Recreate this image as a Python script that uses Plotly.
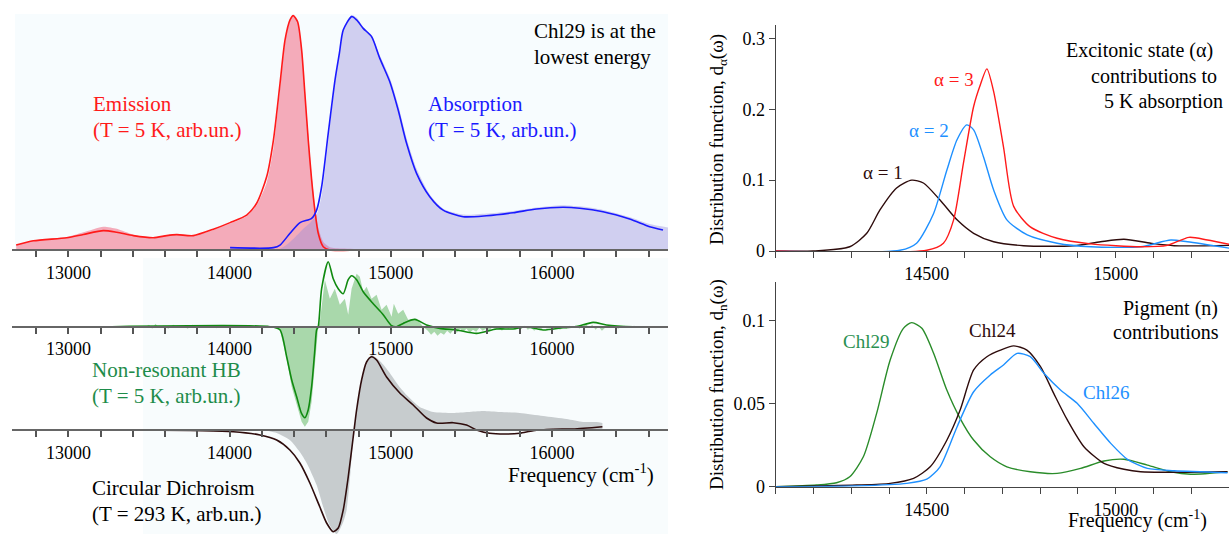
import plotly.graph_objects as go

W, H = 1229, 534
FONT = "Liberation Serif"

# ---------------- Top-left: emission / absorption (T = 5 K), normalised arb. units
emi_exp_f = [12676, 12783, 12990, 13093, 13217, 13300, 13403, 13527, 13610, 13672, 13775, 13899, 14003, 14106,
             14168, 14230, 14272, 14313, 14344, 14375, 14395, 14422, 14447, 14467, 14488, 14509, 14529, 14550,
             14581, 14622, 14700, 14850, 15000]
emi_exp_v = [0.021, 0.040, 0.055, 0.075, 0.099, 0.090, 0.065, 0.050, 0.062, 0.068, 0.062, 0.085, 0.112, 0.143,
             0.190, 0.285, 0.430, 0.680, 0.880, 0.975, 0.995, 0.970, 0.860, 0.680, 0.490, 0.320, 0.190, 0.095,
             0.035, 0.012, 0.006, 0.003, 0.0]
emi_th_f = [12676, 12783, 12990, 13093, 13217, 13300, 13403, 13527, 13610, 13672, 13775, 13899, 14003, 14106,
            14168, 14230, 14272, 14313, 14344, 14375, 14395, 14422, 14447, 14467, 14488, 14509, 14529, 14550,
            14581, 14622, 14800, 15000]
emi_th_v = [0.021, 0.039, 0.052, 0.066, 0.082, 0.075, 0.061, 0.052, 0.061, 0.065, 0.061, 0.088, 0.116, 0.148,
            0.198, 0.310, 0.466, 0.706, 0.890, 0.975, 0.993, 0.967, 0.847, 0.664, 0.466, 0.297, 0.169, 0.071,
            0.014, 0.0, 0.0, 0.0]
abs_exp_f = [14300, 14350, 14400, 14450, 14500, 14540, 14571, 14612, 14654, 14681, 14705, 14757, 14788, 14829,
             14881, 14932, 14994, 15046, 15098, 15160, 15242, 15325, 15449, 15594, 15759, 15904, 16069, 16172,
             16317, 16482, 16606, 16720]
abs_exp_v = [0.0, 0.02, 0.05, 0.085, 0.115, 0.15, 0.23, 0.46, 0.71, 0.83, 0.935, 0.996, 0.985, 0.945,
             0.91, 0.825, 0.73, 0.615, 0.475, 0.345, 0.235, 0.175, 0.15, 0.155, 0.165, 0.18, 0.19, 0.185,
             0.17, 0.14, 0.11, 0.095]
abs_th_f = [14003, 14272, 14313, 14375, 14437, 14509, 14540, 14571, 14612, 14654, 14681, 14705, 14757, 14788,
            14829, 14881, 14932, 14994, 15046, 15098, 15160, 15242, 15325, 15449, 15594, 15759, 15904, 16069,
            16172, 16317, 16482, 16606, 16689]
abs_th_v = [0.010, 0.010, 0.021, 0.071, 0.116, 0.134, 0.169, 0.268, 0.494, 0.720, 0.833, 0.932, 0.989, 0.975,
            0.939, 0.904, 0.812, 0.713, 0.593, 0.452, 0.325, 0.226, 0.169, 0.141, 0.145, 0.158, 0.174, 0.181,
            0.177, 0.162, 0.131, 0.099, 0.085]

# ---------------- Middle-left: non-resonant hole burning (T = 5 K), arb. units
hb_th_f = [13270, 14250, 14312, 14354, 14385, 14416, 14447, 14467, 14488, 14509, 14529, 14540, 14550, 14571,
           14612, 14643, 14674, 14705, 14736, 14757, 14788, 14829, 14891, 14953, 15005, 15036, 15077, 15149,
           15222, 15304, 15408, 15532, 15656, 15759, 15842, 15945, 16069, 16152, 16255, 16338, 16503, 16710]
hb_th_v = [0, 0, -0.03, -0.30, -0.53, -0.70, -0.87, -0.91, -0.83, -0.60, -0.23, -0.03, 0.0, 0.38,
           0.65, 0.48, 0.38, 0.33, 0.47, 0.51, 0.47, 0.35, 0.23, 0.12, 0.01, 0.0, 0.033, 0.073,
           0.017, -0.017, -0.033, -0.067, -0.023, -0.023, 0.0, -0.033, -0.01, 0.0, 0.043, 0.017, 0.0, 0.0]
hb_exp = [(13480, 0), (13500, .02), (13520, -.02), (13540, .03), (13560, -.01), (13590, .01), (13620, -.02),
          (13650, .02), (13680, -.01), (13710, .01), (13740, -.02), (13770, .02), (13800, 0), (13830, .015),
          (13860, -.01), (13890, .01), (13920, -.015), (13950, .01), (13980, -.01), (14010, .01), (14040, -.005),
          (14070, .01), (14100, 0), (14130, .01), (14160, -.005), (14190, .005), (14220, 0), (14250, 0),
          (14312, -.03), (14354, -.32), (14385, -.60), (14416, -.78), (14447, -.95), (14467, -1.0), (14488, -.95),
          (14509, -.75), (14529, -.40), (14545, -.05), (14550, 0), (14560, .05), (14591, .47), (14622, .28),
          (14653, .38), (14684, .22), (14715, .28), (14736, .12), (14757, .38), (14788, .53), (14808, .50),
          (14829, .35), (14850, .40), (14881, .28), (14912, .32), (14943, .17), (14974, .22), (15005, .10),
          (15019, .23), (15046, .13), (15077, .17), (15108, .07), (15160, .08), (15201, 0), (15230, -.04),
          (15250, -.08), (15270, -.05), (15290, -.09), (15310, -.06), (15330, -.08), (15350, -.04), (15370, -.07),
          (15390, -.03), (15410, -.06), (15430, -.02), (15450, -.05), (15470, -.02), (15490, -.06), (15510, -.03),
          (15530, -.05), (15550, -.01), (15570, -.04), (15590, -.02), (15610, -.05), (15630, 0), (15650, -.03),
          (15670, -.01), (15690, -.04), (15710, 0), (15730, -.02), (15750, .01), (15770, -.03), (15790, 0),
          (15810, -.02), (15830, .01), (15850, -.03), (15870, -.01), (15890, -.04), (15910, -.01), (15930, -.03),
          (15950, 0), (15970, -.02), (15990, .01), (16010, -.02), (16030, 0), (16050, -.03), (16070, 0),
          (16090, -.02), (16110, .01), (16130, -.01), (16150, .02), (16170, -.02), (16190, .01), (16210, .03),
          (16230, -.01), (16250, .02), (16270, -.03), (16290, 0), (16310, -.04), (16330, -.01), (16350, .02),
          (16370, -.01), (16390, .01), (16410, -.02), (16430, 0), (16450, .01), (16470, -.01), (16490, 0),
          (16510, .01), (16530, -.01), (16550, 0), (16600, 0), (16680, 0)]
hb_exp_f = [p[0] for p in hb_exp]
hb_exp_v = [p[1] for p in hb_exp]

# ---------------- Bottom-left: circular dichroism (T = 293 K), arb. units
cd_th_f = [13450, 14023, 14188, 14292, 14374, 14436, 14498, 14560, 14602, 14643, 14674, 14705, 14736, 14767,
           14788, 14819, 14850, 14881, 14912, 14974, 15056, 15139, 15222, 15284, 15387, 15470, 15532, 15614,
           15718, 15800, 15883, 16007, 16131, 16313]
cd_th_v = [0, -0.017, -0.05, -0.10, -0.20, -0.33, -0.53, -0.77, -0.93, -1.017, -0.98, -0.80, -0.47, -0.07,
           0.20, 0.50, 0.68, 0.733, 0.70, 0.53, 0.37, 0.25, 0.12, 0.07, 0.073, 0.05, 0.0, -0.033,
           -0.04, -0.033, -0.007, 0.007, 0.01, 0.033]
cd_exp_f = [13450, 14000, 14200, 14292, 14374, 14436, 14478, 14540, 14581, 14620, 14664, 14705, 14726, 14750,
            14771, 14800, 14830, 14860, 14881, 14912, 14950, 14994, 15050, 15098, 15180, 15263, 15387, 15480,
            15573, 15676, 15800, 15945, 16090, 16193, 16276, 16313]
cd_exp_v = [0, 0.005, 0, -0.03, -0.10, -0.22, -0.33, -0.55, -0.77, -0.95, -1.04, -0.92, -0.80, -0.42,
            0, 0.30, 0.55, 0.70, 0.75, 0.72, 0.66, 0.57, 0.44, 0.35, 0.23, 0.18, 0.17, 0.18,
            0.19, 0.18, 0.17, 0.14, 0.11, 0.08, 0.08, 0.07]

# ---------------- Right-top: excitonic state contributions d_alpha(omega)
a1_f = [14100, 14199, 14296, 14341, 14376, 14420, 14460, 14491, 14535, 14580, 14624, 14677, 14756, 14889, 14960,
        15022, 15093, 15155, 15300]
a1_v = [0, 0, 0.006, 0.025, 0.058, 0.089, 0.100, 0.096, 0.072, 0.044, 0.025, 0.013, 0.0075, 0.0075, 0.013,
        0.0165, 0.011, 0.0075, 0.008]
a2_f = [14100, 14429, 14473, 14518, 14553, 14580, 14606, 14624, 14650, 14677, 14712, 14766, 14845, 14934, 15066,
        15146, 15190, 15301]
a2_v = [0, 0.001, 0.011, 0.053, 0.114, 0.157, 0.178, 0.171, 0.133, 0.086, 0.044, 0.0226, 0.011, 0.006, 0.006,
        0.0155, 0.013, 0.004]
a3_f = [14100, 14500, 14544, 14571, 14597, 14624, 14642, 14659, 14677, 14703, 14730, 14774, 14845, 14934, 15066,
        15137, 15194, 15243, 15301]
a3_v = [0, 0.001, 0.011, 0.044, 0.124, 0.204, 0.235, 0.257, 0.225, 0.147, 0.063, 0.034, 0.018, 0.010, 0.006,
        0.008, 0.0193, 0.0155, 0.0095]

# ---------------- Right-bottom: pigment contributions d_n(omega)
chl29_f = [14100, 14208, 14261, 14296, 14332, 14367, 14403, 14438, 14460, 14487, 14518, 14553, 14588, 14624,
           14668, 14712, 14774, 14845, 14907, 14969, 15022, 15084, 15146, 15199, 15296]
chl29_v = [0, 0.001, 0.0024, 0.006, 0.018, 0.044, 0.0763, 0.0954, 0.0988, 0.0954, 0.0804, 0.0582, 0.0412, 0.0281,
           0.018, 0.012, 0.009, 0.008, 0.011, 0.0155, 0.0165, 0.013, 0.009, 0.0075, 0.009]
chl24_f = [14100, 14314, 14403, 14465, 14509, 14553, 14588, 14624, 14659, 14695, 14730, 14765, 14801, 14836,
           14872, 14916, 14969, 15022, 15066, 15296]
chl24_v = [0, 0.001, 0.002, 0.005, 0.012, 0.028, 0.046, 0.0703, 0.0783, 0.0823, 0.0848, 0.0823, 0.0723, 0.0562,
           0.0402, 0.0241, 0.0141, 0.0105, 0.009, 0.009]
chl26_f = [14100, 14314, 14447, 14500, 14535, 14580, 14624, 14668, 14703, 14739, 14774, 14810, 14854, 14898,
           14942, 14987, 15031, 15084, 15155, 15296]
chl26_v = [0, 0.0005, 0.002, 0.0045, 0.012, 0.036, 0.0572, 0.0673, 0.0733, 0.0803, 0.0783, 0.0683, 0.0582, 0.0502,
           0.0382, 0.0261, 0.0165, 0.011, 0.0096, 0.0084]

left_ticks = [13000, 14000, 15000, 16000]
right_ticks = [14500, 15000]
top_right_yticks = [0, 0.1, 0.2, 0.3]
bot_right_yticks = [0, 0.05, 0.1]

# ---------------- colours
RED, BLUE = "#ff1a1a", "#1a1aff"
LBLUE = "#1e90ff"
GREEN = "#108a10"
BROWN = "#2e0c0c"

fig = go.Figure()


def px_x(x):
    return x / W


def px_y(y):
    return 1 - y / H


def line(fx, v, color, xa, ya, width=1.6, smooth=True):
    fig.add_trace(go.Scatter(x=fx, y=v, mode="lines", xaxis=xa, yaxis=ya,
                             line=dict(color=color, width=width,
                                       shape="spline" if smooth else "linear",
                                       smoothing=0.7 if smooth else None),
                             hoverinfo="skip", showlegend=False))


def area(fx, v, fillcolor, xa, ya, smooth=True):
    fig.add_trace(go.Scatter(x=fx, y=v, mode="lines", xaxis=xa, yaxis=ya, fill="tozeroy",
                             fillcolor=fillcolor,
                             line=dict(width=0, color=fillcolor,
                                       shape="spline" if smooth else "linear",
                                       smoothing=0.6 if smooth else None),
                             hoverinfo="skip", showlegend=False))


# top-left
area(emi_exp_f, emi_exp_v, "rgba(240,80,110,0.47)", "x", "y")
area(abs_exp_f, abs_exp_v, "rgba(150,140,220,0.40)", "x", "y")
line(emi_th_f, emi_th_v, RED, "x", "y")
line(abs_th_f, abs_th_v, BLUE, "x", "y")
# middle-left
area(hb_exp_f, hb_exp_v, "rgba(90,180,90,0.50)", "x2", "y2", smooth=False)
line(hb_th_f, hb_th_v, GREEN, "x2", "y2")
# bottom-left
area(cd_exp_f, cd_exp_v, "rgba(150,155,160,0.50)", "x3", "y3")
line(cd_th_f, cd_th_v, BROWN, "x3", "y3")
# right-top
line(a1_f, a1_v, BROWN, "x4", "y4", width=1.4)
line(a2_f, a2_v, LBLUE, "x4", "y4", width=1.4)
line(a3_f, a3_v, RED, "x4", "y4", width=1.4)
# right-bottom
line(chl29_f, chl29_v, "#2a8c2a", "x5", "y5", width=1.4)
line(chl24_f, chl24_v, BROWN, "x5", "y5", width=1.4)
line(chl26_f, chl26_v, LBLUE, "x5", "y5", width=1.4)


def yrange(baseline_px, px_per_unit):
    return [-(H - baseline_px) / px_per_unit, baseline_px / px_per_unit]


LEFT_RANGE = [12650, 16720]
LEFT_DOM = [px_x(12), px_x(668)]
tickfont = dict(family=FONT, size=18, color="black")


def left_xaxis(baseline_px):
    return dict(domain=LEFT_DOM, range=LEFT_RANGE, anchor="free", position=px_y(baseline_px),
                showline=True, linecolor="#666666", linewidth=2, ticks="outside", ticklen=6,
                tickwidth=1.5, tickcolor="#555555", tickvals=left_ticks, tickformat="d",
                tickfont=tickfont, automargin=False,
                minor=dict(dtick=200, tick0=13000, ticks="outside", ticklen=6, tickwidth=1.5,
                           tickcolor="#555555"),
                showgrid=False, zeroline=False, fixedrange=True)


def hidden_y(xa, rng):
    return dict(domain=[0, 1], range=rng, anchor=xa, visible=False, fixedrange=True, automargin=False)


RIGHT_RANGE = [14100, 15300]
RIGHT_DOM = [px_x(775.7), 1.0]


def right_xaxis(ya):
    return dict(domain=RIGHT_DOM, range=RIGHT_RANGE, anchor=ya, showline=True, linecolor="#444444",
                linewidth=1.4, ticks="outside", ticklen=6, tickwidth=1.2, tickcolor="#444444",
                tickvals=right_ticks, tickformat="d", tickfont=tickfont, automargin=False,
                minor=dict(dtick=100, tick0=14100, ticks="outside", ticklen=6, tickwidth=1.2,
                           tickcolor="#444444"),
                showgrid=False, zeroline=False, fixedrange=True)


def right_yaxis(xa, top_px, bot_px, rng, tv):
    return dict(domain=[px_y(bot_px), px_y(top_px)], range=rng, anchor=xa, showline=True,
                linecolor="#444444", linewidth=1.4, ticks="outside", ticklen=6, tickwidth=1.2,
                tickcolor="#444444", tickvals=tv, tickfont=tickfont, showgrid=False,
                zeroline=False, fixedrange=True, automargin=False)


def ann(text, x, y, color="black", xanchor="left", size=21, angle=0):
    return dict(text=text, x=px_x(x), y=px_y(y), xref="paper", yref="paper", xanchor=xanchor,
                yanchor="middle", align=xanchor if xanchor != "center" else "center",
                showarrow=False, textangle=angle,
                font=dict(family=FONT, size=size, color=color))


annotations = [
    ann("Chl29 is at the", 532, 31),
    ann("lowest energy", 532, 57),
    ann("Emission", 91, 104, RED),
    ann("(T = 5 K, arb.un.)", 91, 130, RED),
    ann("Absorption", 426, 104, BLUE),
    ann("(T = 5 K, arb.un.)", 426, 130, BLUE),
    ann("Non-resonant HB", 90, 370, "#1e8c4a"),
    ann("(T = 5 K, arb.un.)", 90, 396, "#1e8c4a"),
    ann("Circular Dichroism", 90, 488),
    ann("(T = 293 K, arb.un.)", 90, 514),
    ann("Frequency (cm<sup>-1</sup>)", 506, 473),
    ann("Excitonic state (α)", 1064, 50, size=20),
    ann("contributions to", 1089, 76, size=20),
    ann("5 K absorption", 1102, 101, size=20),
    ann("α = 3", 932, 79, RED, size=19),
    ann("α = 2", 907, 130, LBLUE, size=19),
    ann("α = 1", 861, 172, BROWN, size=19),
    ann("Pigment (n)", 1121, 308, size=20),
    ann("contributions", 1111, 332, size=20),
    ann("Chl29", 841, 341, "#2a9050", size=19),
    ann("Chl24", 967, 330, BROWN, size=19),
    ann("Chl26", 1081, 392, LBLUE, size=19),
    ann("Distribution function, d<sub>α</sub>(ω)", 718, 140, xanchor="center", size=19, angle=-90),
    ann("Distribution function, d<sub>n</sub>(ω)", 718, 385, xanchor="center", size=19, angle=-90),
    ann("Frequency (cm<sup>-1</sup>)", 1066, 519, size=20),
]

shapes = [
    dict(type="rect", xref="paper", yref="paper", x0=px_x(15), x1=px_x(668), y0=px_y(250), y1=px_y(14),
         fillcolor="#f7fcfe", line=dict(width=0), layer="below"),
    dict(type="rect", xref="paper", yref="paper", x0=px_x(143), x1=px_x(668), y0=px_y(534), y1=px_y(258),
         fillcolor="#f8fcfd", line=dict(width=0), layer="below"),
]

fig.update_layout(
    width=W, height=H, margin=dict(l=0, r=0, t=0, b=0, autoexpand=False),
    paper_bgcolor="white", plot_bgcolor="rgba(0,0,0,0)",
    showlegend=False,
    xaxis=left_xaxis(250), yaxis=hidden_y("x", yrange(250, 236)),
    xaxis2=left_xaxis(326.7), yaxis2=hidden_y("x2", yrange(326.7, 100)),
    xaxis3=left_xaxis(430), yaxis3=hidden_y("x3", yrange(430, 100)),
    xaxis4=right_xaxis("y4"), yaxis4=right_yaxis("x4", 25, 251, [0, 0.319], top_right_yticks),
    xaxis5=right_xaxis("y5"), yaxis5=right_yaxis("x5", 282, 486.7, [0, 0.1233], bot_right_yticks),
    annotations=annotations, shapes=shapes,
)

fig.write_html("out.html", config={"displayModeBar": False},
               post_script="document.body.style.margin='0px';document.body.style.overflow='hidden';")
